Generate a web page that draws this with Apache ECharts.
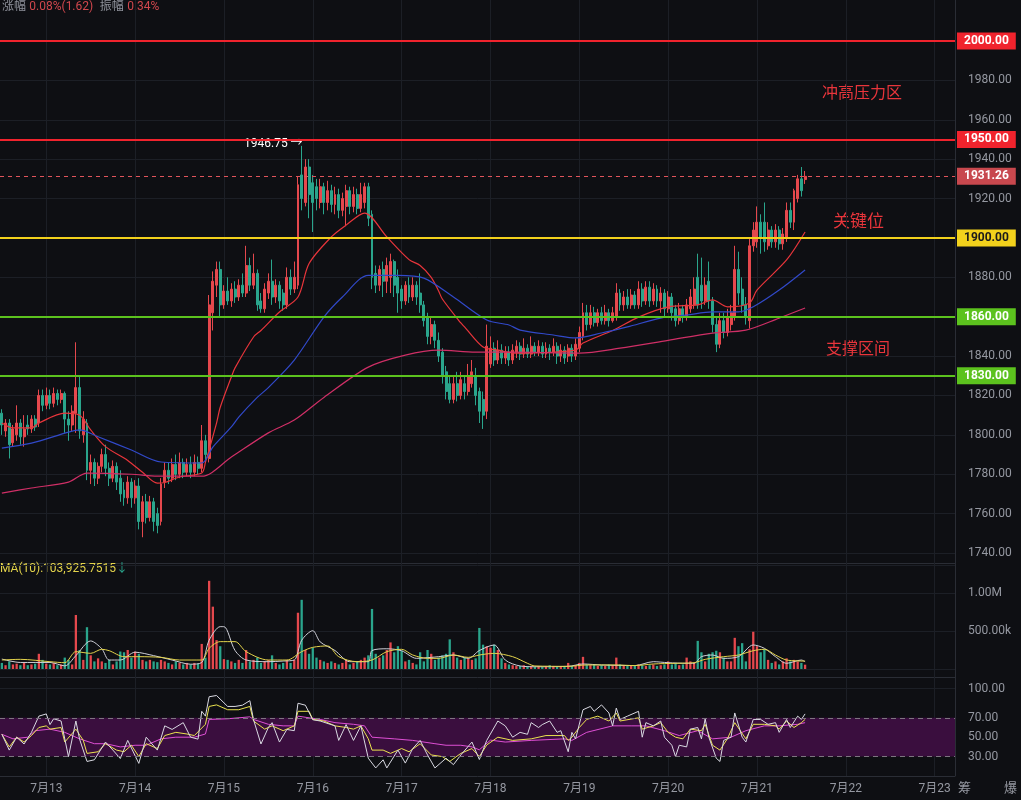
<!DOCTYPE html>
<html>
<head>
<meta charset="utf-8">
<title>K线</title>
<script src="https://cdn.jsdelivr.net/npm/echarts@6/dist/echarts.min.js"></script>
<style>
html, body { margin: 0; padding: 0; background: #0e0f13; }
#chart { width: 1021px; height: 800px; }
</style>
</head>
<body>
<div id="chart"></div>
<script>
// 日期（小时K线，第一根是 7月12 12:00）
const days = ['7月12', '7月13', '7月14', '7月15', '7月16', '7月17', '7月18', '7月19', '7月20', '7月21', '7月22', '7月23']
const firstHour = 12
const totalBars = 258

// K线 [开, 收, 低, 高]
const day12 = [
  [1811, 1805, 1800, 1813], [1802, 1806, 1799, 1808], [1806, 1795, 1788, 1808], [1796, 1803, 1794, 1805],
  [1800, 1806, 1797, 1815], [1806, 1799, 1795, 1808], [1799, 1803, 1794, 1810], [1805, 1803, 1800, 1810],
  [1803, 1808, 1801, 1810], [1808, 1804, 1802, 1810], [1806, 1820, 1804, 1823], [1820, 1815, 1812, 1823]
]
const day13 = [
  [1815, 1820, 1813, 1824], [1820, 1816, 1813, 1823], [1816, 1821, 1814, 1824], [1821, 1818, 1815, 1823],
  [1818, 1821, 1816, 1823], [1821, 1808, 1801, 1822], [1808, 1805, 1797, 1812], [1805, 1812, 1802, 1815],
  [1811, 1824, 1801, 1847], [1824, 1802, 1798, 1830], [1800, 1808, 1796, 1812], [1806, 1782, 1777, 1808],
  [1782, 1786, 1775, 1790], [1786, 1778, 1774, 1788], [1778, 1784, 1775, 1786], [1784, 1790, 1781, 1793],
  [1790, 1783, 1779, 1795], [1783, 1778, 1774, 1786], [1778, 1784, 1776, 1787], [1784, 1776, 1772, 1786],
  [1778, 1770, 1766, 1782], [1772, 1768, 1764, 1776], [1768, 1776, 1765, 1779], [1776, 1768, 1763, 1778]
]
const day14 = [
  [1768, 1774, 1765, 1777], [1774, 1756, 1752, 1778], [1756, 1766, 1748, 1769], [1766, 1758, 1755, 1770],
  [1758, 1766, 1756, 1769], [1766, 1756, 1751, 1768], [1760, 1754, 1750, 1763], [1756, 1775, 1754, 1778],
  [1776, 1782, 1773, 1786], [1782, 1778, 1775, 1786], [1778, 1785, 1776, 1788], [1785, 1780, 1777, 1790],
  [1780, 1786, 1778, 1791], [1786, 1781, 1778, 1788], [1781, 1785, 1779, 1788], [1785, 1781, 1778, 1789],
  [1781, 1786, 1779, 1790], [1786, 1783, 1780, 1789], [1783, 1797, 1781, 1805], [1797, 1790, 1786, 1800],
  [1788, 1866, 1786, 1871], [1862, 1878, 1853, 1883], [1876, 1884, 1870, 1888], [1884, 1866, 1860, 1888]
]
const day15 = [
  [1866, 1873, 1864, 1876], [1873, 1868, 1866, 1880], [1868, 1874, 1865, 1877], [1874, 1870, 1867, 1878],
  [1870, 1876, 1868, 1879], [1876, 1872, 1870, 1882], [1872, 1886, 1870, 1896], [1886, 1876, 1873, 1890],
  [1876, 1882, 1874, 1892], [1882, 1866, 1863, 1884], [1868, 1864, 1862, 1872], [1864, 1874, 1862, 1877],
  [1872, 1878, 1869, 1882], [1878, 1870, 1866, 1889], [1870, 1876, 1867, 1879], [1876, 1868, 1864, 1878],
  [1872, 1866, 1863, 1874], [1866, 1880, 1864, 1885], [1880, 1874, 1871, 1884], [1874, 1880, 1872, 1888],
  [1876, 1927, 1874, 1931], [1932, 1920, 1914, 1946.75], [1918, 1936, 1916, 1940], [1936, 1922, 1910, 1940]
]
const day16 = [
  [1928, 1918, 1903, 1932], [1926, 1920, 1914, 1930], [1918, 1926, 1915, 1930], [1926, 1918, 1912, 1928],
  [1918, 1924, 1914, 1929], [1924, 1917, 1913, 1927], [1917, 1922, 1912, 1926], [1922, 1914, 1910, 1925],
  [1914, 1920, 1911, 1923], [1916, 1924, 1906, 1927], [1924, 1916, 1912, 1926], [1916, 1922, 1913, 1926],
  [1922, 1915, 1912, 1925], [1915, 1922, 1913, 1928], [1918, 1926, 1915, 1928], [1926, 1910, 1906, 1928],
  [1912, 1880, 1874, 1914], [1882, 1876, 1872, 1886], [1876, 1884, 1873, 1886], [1884, 1878, 1870, 1888],
  [1878, 1886, 1872, 1890], [1880, 1888, 1872, 1892], [1888, 1876, 1870, 1889], [1880, 1872, 1862, 1884]
]
const day17 = [
  [1874, 1868, 1864, 1876], [1868, 1876, 1866, 1878], [1876, 1870, 1867, 1880], [1870, 1876, 1868, 1880],
  [1876, 1870, 1866, 1878], [1872, 1866, 1862, 1882], [1866, 1858, 1855, 1868], [1860, 1850, 1846, 1862],
  [1850, 1856, 1846, 1860], [1856, 1848, 1844, 1858], [1848, 1840, 1837, 1852], [1842, 1830, 1826, 1844],
  [1832, 1822, 1818, 1835], [1826, 1818, 1816, 1830], [1818, 1826, 1816, 1830], [1826, 1820, 1817, 1832],
  [1820, 1828, 1818, 1832], [1826, 1822, 1818, 1830], [1822, 1830, 1820, 1836], [1826, 1832, 1824, 1838],
  [1830, 1820, 1815, 1834], [1822, 1812, 1806, 1824], [1818, 1810, 1803, 1822], [1812, 1845, 1808, 1856]
]
const day18 = [
  [1836, 1844, 1834, 1850], [1844, 1838, 1835, 1847], [1838, 1843, 1836, 1848], [1843, 1839, 1836, 1846],
  [1839, 1842, 1836, 1845], [1842, 1838, 1835, 1845], [1838, 1843, 1836, 1846], [1842, 1845, 1839, 1848],
  [1845, 1841, 1838, 1847], [1841, 1844, 1839, 1849], [1844, 1841, 1839, 1846], [1841, 1845, 1839, 1850],
  [1845, 1842, 1840, 1847], [1842, 1845, 1840, 1848], [1845, 1841, 1839, 1847], [1841, 1844, 1839, 1847],
  [1844, 1842, 1838, 1846], [1842, 1845, 1840, 1849], [1845, 1840, 1836, 1847], [1840, 1843, 1837, 1846],
  [1843, 1839, 1836, 1845], [1840, 1844, 1837, 1846], [1844, 1840, 1837, 1846], [1840, 1846, 1838, 1849]
]
const day19 = [
  [1844, 1852, 1842, 1855], [1850, 1862, 1848, 1867], [1862, 1856, 1853, 1866], [1856, 1862, 1854, 1866],
  [1862, 1857, 1855, 1865], [1857, 1862, 1855, 1864], [1862, 1858, 1856, 1865], [1858, 1862, 1856, 1866],
  [1862, 1858, 1855, 1864], [1858, 1862, 1857, 1865], [1860, 1872, 1858, 1877], [1872, 1866, 1863, 1874],
  [1866, 1870, 1863, 1873], [1870, 1866, 1864, 1874], [1866, 1871, 1864, 1874], [1871, 1866, 1864, 1873],
  [1866, 1874, 1864, 1878], [1874, 1868, 1865, 1877], [1868, 1875, 1866, 1878], [1875, 1868, 1865, 1878],
  [1868, 1874, 1866, 1877], [1874, 1868, 1865, 1876], [1868, 1872, 1862, 1875], [1872, 1864, 1860, 1874]
]
const day20 = [
  [1864, 1870, 1862, 1873], [1870, 1862, 1858, 1872], [1864, 1858, 1855, 1866], [1858, 1864, 1856, 1867],
  [1864, 1860, 1857, 1866], [1860, 1866, 1858, 1869], [1864, 1870, 1862, 1874], [1866, 1874, 1864, 1880],
  [1880, 1866, 1864, 1892], [1876, 1868, 1864, 1890], [1868, 1876, 1866, 1880], [1878, 1868, 1864, 1888],
  [1868, 1856, 1852, 1870], [1856, 1846, 1842, 1860], [1846, 1858, 1844, 1862], [1858, 1852, 1849, 1862],
  [1852, 1860, 1850, 1864], [1856, 1862, 1853, 1866], [1860, 1884, 1858, 1896], [1884, 1872, 1866, 1893],
  [1874, 1866, 1862, 1880], [1866, 1860, 1856, 1870], [1858, 1896, 1854, 1900], [1896, 1904, 1893, 1908]
]
const day21 = [
  [1898, 1908, 1895, 1916], [1908, 1900, 1892, 1912], [1908, 1898, 1893, 1918], [1896, 1904, 1894, 1908],
  [1904, 1898, 1895, 1906], [1898, 1904, 1895, 1907], [1904, 1897, 1894, 1906], [1897, 1902, 1894, 1905],
  [1900, 1914, 1898, 1918], [1914, 1908, 1905, 1918], [1908, 1924, 1904, 1925], [1920, 1930, 1918, 1932],
  [1930, 1924, 1921, 1936], [1929.64, 1931.26, 1927.4, 1934]
]

// 成交量（单位 k）
const vol12 = [80, 50, 100, 60, 70, 50, 80, 50, 60, 70, 200, 120]
const vol13 = [70, 60, 80, 50, 60, 150, 120, 60, 710, 250, 120, 550, 180, 100, 140, 100, 80, 120, 60, 100, 230, 220, 250, 150]
const vol14 = [230, 200, 120, 100, 120, 100, 90, 120, 100, 80, 60, 100, 80, 60, 80, 60, 80, 70, 330, 150, 1160, 820, 380, 300]
const vol15 = [130, 120, 100, 80, 120, 80, 250, 100, 120, 150, 80, 100, 120, 180, 80, 60, 80, 120, 80, 120, 740, 910, 250, 200]
const vol16 = [280, 150, 120, 100, 80, 100, 80, 60, 80, 120, 60, 80, 100, 120, 150, 180, 790, 200, 150, 180, 250, 350, 220, 300]
const vol17 = [240, 100, 120, 80, 60, 220, 100, 250, 200, 120, 150, 180, 200, 390, 220, 150, 120, 150, 140, 120, 140, 540, 320, 300]
const vol18 = [280, 320, 250, 140, 80, 60, 50, 40, 40, 50, 40, 40, 30, 40, 30, 40, 50, 40, 30, 40, 40, 80, 40, 50]
const vol19 = [80, 160, 60, 50, 60, 40, 50, 40, 60, 50, 150, 60, 50, 40, 50, 40, 60, 50, 40, 50, 60, 40, 50, 60]
const vol20 = [100, 60, 80, 50, 60, 150, 100, 80, 370, 220, 100, 200, 220, 240, 220, 150, 100, 100, 410, 300, 340, 100, 260, 490]
const vol21 = [300, 220, 260, 120, 80, 100, 60, 100, 140, 100, 120, 100, 80, 56.8]

// 均线 [K线序号, 价格]
const maFast = [[0, 1806], [3, 1803.5], [8, 1803.5], [10, 1806], [17, 1811], [21, 1810], [24, 1802.5], [28, 1794], [34, 1787],
  [38, 1781], [42, 1775.5], [44, 1775.8], [48, 1778.6], [54, 1780.6], [55, 1786], [58, 1806], [59, 1814], [62, 1829.4],
  [63, 1834], [68, 1849.7], [70, 1853], [75, 1862.4], [80, 1870], [83, 1887], [89, 1900.5], [93, 1906.5], [98, 1912.6],
  [104, 1900.5], [110, 1889], [113, 1886], [116, 1880], [118, 1873], [119, 1869], [124, 1856.8], [125, 1854.8], [130, 1844.6],
  [134, 1843], [139, 1841.5], [155, 1843], [157, 1846.6], [165, 1853], [172, 1859.8], [180, 1865], [188, 1866],
  [192, 1868.5], [196, 1865], [202, 1867], [204, 1873.5], [212, 1888.8], [217, 1903]]
const maMid = [[0, 1793.3], [8, 1795.8], [18, 1801.4], [21, 1802.5], [26, 1799], [35, 1792.3], [43, 1786.2], [54, 1785.7],
  [57, 1793.8], [62, 1804], [64, 1809], [69, 1819], [72, 1824], [79, 1838], [87, 1859.8], [92, 1870], [99, 1881],
  [107, 1881], [114, 1879.6], [122, 1870], [131, 1858.3], [137, 1855.8], [140, 1853.2], [149, 1850.7], [155, 1849.2],
  [162, 1851.7], [169, 1854.8], [178, 1859.3], [185, 1860.8], [192, 1862.4], [199, 1862.4], [203, 1865], [210, 1873.5], [217, 1883.7]]
const maSlow = [[0, 1770.4], [8, 1773], [18, 1776], [23, 1780.6], [35, 1780], [42, 1779], [54, 1779], [62, 1788.7],
  [72, 1801], [79, 1807.5], [87, 1819], [99, 1834.4], [109, 1840.5], [118, 1843], [128, 1842], [137, 1842], [156, 1841.5],
  [167, 1844], [180, 1848], [192, 1851.7], [201, 1853.2], [210, 1859.3], [217, 1864.4]]

// 成交量均线 [序号, k]
const volMa5 = [[0, 131], [5, 86], [13, 86], [17, 41], [20, 176], [24, 369], [27, 266], [29, 118], [32, 118], [36, 221],
  [41, 176], [46, 118], [51, 63], [54, 86], [56, 378], [59, 557], [60, 557], [63, 243], [66, 118], [72, 96], [76, 105],
  [79, 118], [81, 378], [84, 504], [86, 356], [90, 243], [94, 96], [99, 96], [100, 243], [104, 266], [108, 240], [112, 140],
  [116, 153], [118, 162], [122, 184], [126, 140], [129, 243], [133, 316], [136, 118], [140, 40], [144, 30], [153, 35],
  [157, 66], [162, 53], [171, 45], [176, 96], [180, 83], [185, 75], [187, 75], [189, 162], [192, 184], [195, 140],
  [199, 162], [203, 316], [206, 272], [209, 162], [212, 75], [216, 118], [217, 96]]
const volMa10 = [[0, 118], [5, 127], [13, 96], [17, 83], [20, 228], [24, 206], [27, 259], [29, 241], [33, 162], [37, 162],
  [43, 153], [48, 118], [54, 118], [56, 272], [59, 360], [63, 360], [66, 228], [72, 118], [77, 118], [81, 228], [84, 285],
  [88, 303], [91, 162], [96, 96], [100, 118], [104, 228], [108, 259], [111, 184], [115, 140], [118, 140], [122, 184],
  [126, 153], [129, 184], [133, 206], [138, 162], [142, 75], [144, 40], [153, 35], [158, 53], [166, 53], [171, 45],
  [176, 66], [182, 75], [187, 83], [190, 127], [195, 162], [199, 184], [203, 241], [206, 259], [209, 184], [212, 118], [217, 104]]

// RSI [序号, 值]
const rsiFast = [[0, 53], [2, 36.7], [4, 50], [6, 43], [8, 55], [10, 71.7], [12, 74], [13, 63], [14, 69], [16, 66.7],
  [18, 30], [20, 66.7], [21, 48], [23, 25], [25, 26.7], [28, 45], [30, 36.7], [32, 28], [34, 46.7], [37, 23], [39, 50],
  [42, 36.7], [44, 61.7], [46, 58], [49, 65], [51, 50], [53, 48], [54, 76.7], [55, 71.7], [56, 91.7], [58, 93], [61, 81.7],
  [63, 81.7], [65, 83], [67, 87.7], [68, 68], [70, 43], [72, 60], [73, 65], [75, 45], [77, 58], [79, 56.7], [80, 85],
  [82, 83], [84, 68], [86, 66.7], [90, 61.7], [91, 46.7], [93, 63], [95, 46.7], [97, 61.7], [99, 28.3], [101, 18.3],
  [103, 26.7], [104, 18.3], [107, 36.7], [109, 23.3], [111, 38.3], [113, 46.7], [115, 31.7], [117, 18.3], [120, 28.3],
  [122, 21.7], [124, 31.7], [127, 45], [129, 27], [131, 46.7], [134, 66.7], [136, 61.7], [138, 50], [140, 55], [142, 53],
  [143, 65], [145, 60], [146, 63], [148, 66.7], [150, 55], [151, 56.7], [153, 35], [154, 55], [155, 48.3], [157, 78.3],
  [159, 81.7], [160, 76.7], [162, 83.3], [164, 75], [165, 61.7], [166, 80], [167, 68.3], [169, 71.7], [172, 76.7],
  [173, 50], [174, 65], [176, 61.7], [178, 66.7], [179, 50], [181, 41.7], [182, 30], [183, 41.7], [185, 40], [186, 58.3],
  [188, 60], [189, 48.3], [190, 69], [191, 50], [193, 28.3], [194, 25], [195, 46.7], [197, 50], [198, 75], [200, 50],
  [201, 45], [203, 68.3], [205, 68.3], [207, 63.3], [209, 65], [210, 55], [212, 68.3], [213, 60], [215, 71.7], [216, 68.3], [217, 74]]
const rsiMid = [[0, 53], [2, 40], [4, 50], [6, 45], [8, 51.7], [10, 60], [12, 61.7], [13, 58.3], [16, 60], [17, 45],
  [20, 58.3], [22, 46.7], [23, 33.3], [26, 35], [28, 43.3], [31, 36.7], [33, 35], [35, 41.7], [37, 30], [39, 43.3],
  [42, 38.3], [44, 51.7], [47, 55], [50, 53.3], [52, 51.7], [55, 63.3], [56, 81.7], [58, 83.3], [61, 78.3], [64, 78.3],
  [67, 81.7], [68, 66.7], [71, 58.3], [73, 61.7], [76, 56.7], [79, 61.7], [80, 76.7], [83, 76.7], [84, 68.3], [87, 66.7],
  [90, 61.7], [93, 60], [95, 58.3], [97, 61.7], [99, 48.3], [100, 36.7], [103, 36.7], [105, 33.3], [108, 38.3], [110, 35],
  [113, 43.3], [116, 31.7], [119, 30], [121, 25], [124, 33.3], [127, 38.3], [129, 30], [131, 42], [134, 50], [138, 46.7],
  [143, 48.3], [147, 51.7], [152, 51.7], [153, 46.7], [154, 50], [156, 60], [158, 68.3], [161, 71.7], [164, 66.7],
  [166, 75], [167, 66.7], [172, 70], [173, 58.3], [176, 61.7], [178, 65], [180, 55], [182, 50], [184, 48.3], [186, 58.3],
  [189, 56.7], [190, 63.3], [192, 41.7], [194, 36.7], [196, 48.3], [198, 65], [201, 48.3], [203, 63.3], [206, 63.3],
  [209, 61.7], [210, 58.3], [212, 66.7], [214, 60], [216, 65], [217, 68.3]]
const rsiSlow = [[0, 53], [3, 48.3], [7, 50], [9, 56.7], [13, 58.3], [17, 55], [21, 48.3], [25, 43.3], [28, 43.3], [32, 40],
  [36, 41.7], [39, 41.7], [43, 48.3], [47, 50], [52, 50], [55, 53.3], [56, 68.3], [61, 69], [67, 71], [68, 68.3], [72, 63.3],
  [76, 61.7], [79, 61.7], [80, 71.7], [83, 70], [86, 68.3], [90, 65], [95, 63.3], [98, 61.7], [100, 50], [106, 48.3],
  [111, 46.7], [117, 43.3], [120, 41.7], [124, 41.7], [127, 40], [129, 37], [132, 47], [136, 45], [143, 46.7], [152, 48.3],
  [154, 46.7], [158, 55], [165, 61.7], [170, 61.7], [174, 61.7], [179, 56.7], [183, 51.7], [188, 56.7], [192, 48.3],
  [197, 50], [201, 56.7], [206, 61.7], [210, 61.7], [215, 63.3], [217, 65]]

// 水平关键位
const levels = [2000, 1950, 1900, 1860, 1830]
const lastPrice = 1931.26

const UP = '#e5484d'
const DOWN = '#2aa58c'
const FONT = 'Roboto, "Noto Sans CJK SC", sans-serif'

const candles = [].concat(day12, day13, day14, day15, day16, day17, day18, day19, day20, day21)
const volumes = [].concat(vol12, vol13, vol14, vol15, vol16, vol17, vol18, vol19, vol20, vol21)
const categories = []
for (let i = 0; i < totalBars; i++) {
  const h = firstHour + i
  categories.push(days[Math.floor(h / 24)] + ' ' + String(h % 24).padStart(2, '0') + ':00')
}
const isDayStart = (i) => (i + firstHour) % 24 === 0

function boxLabel(bg, fg, text) {
  return {
    show: true,
    position: 'end',
    distance: 2,
    formatter: text,
    backgroundColor: bg,
    color: fg,
    fontFamily: FONT,
    fontSize: 12,
    fontWeight: 'bold',
    padding: [3, 7, 2, 7]
  }
}

const levelStyle = {
  2000: { color: '#f0232d', text: '#ffffff' },
  1950: { color: '#f0232d', text: '#ffffff' },
  1900: { color: '#f2d11c', text: '#1b1b1b' },
  1860: { color: '#5cc21e', text: '#ffffff' },
  1830: { color: '#5cc21e', text: '#ffffff' }
}

const gridLine = '#1c1f26'
const hiddenX = (gi) => ({
  type: 'category', gridIndex: gi, data: categories, boundaryGap: true,
  axisLine: { show: false }, axisTick: { show: false }, axisLabel: { show: false }, splitLine: { show: false }
})

const eChart = echarts.init(document.getElementById('chart'))
const option = {
  backgroundColor: '#0e0f13',
  animation: false,
  grid: [
    { left: 0, right: 66, top: 0, height: 776 }, // 背景竖线
    { left: 0, right: 66, top: 41, height: 512 }, // 主图
    { left: 0, right: 66, top: 565, height: 104 }, // 成交量
    { left: 0, right: 66, top: 679, height: 97 } // RSI
  ],
  xAxis: [
    {
      type: 'category', gridIndex: 0, data: categories, boundaryGap: true,
      axisLine: { show: false }, axisTick: { show: false }, axisLabel: { show: false },
      splitLine: { show: true, alignWithLabel: true, interval: isDayStart, lineStyle: { color: gridLine, width: 1 } }
    },
    hiddenX(1),
    hiddenX(2),
    {
      type: 'category', gridIndex: 3, data: categories, boundaryGap: true,
      axisLine: { show: true, lineStyle: { color: '#2a2d35' } },
      axisTick: { show: false },
      splitLine: { show: false },
      axisLabel: {
        show: true, interval: isDayStart, margin: 7, color: '#9598a1', fontSize: 12, fontFamily: FONT,
        formatter: (v) => v.split(' ')[0]
      }
    }
  ],
  yAxis: [
    { type: 'value', gridIndex: 0, show: false, min: 0, max: 1 },
    {
      type: 'value', gridIndex: 1, position: 'right', min: 1740, max: 2000, interval: 20,
      axisLine: { show: false }, axisTick: { show: false },
      splitLine: { lineStyle: { color: gridLine } },
      axisLabel: {
        color: '#9598a1', fontSize: 12, fontFamily: FONT, margin: 13,
        formatter: (v) => (v === 2000 || v === 1900 || v === 1860) ? '' : v.toFixed(2)
      }
    },
    {
      type: 'value', gridIndex: 2, position: 'right', min: 0, max: 1368, interval: 500,
      axisLine: { show: false }, axisTick: { show: false },
      splitLine: { lineStyle: { color: gridLine } },
      axisLabel: {
        color: '#9598a1', fontSize: 12, fontFamily: FONT, margin: 13, showMaxLabel: false,
        formatter: (v) => v === 1000 ? '1.00M' : (v === 500 ? '500.00k' : '')
      }
    },
    {
      type: 'value', gridIndex: 3, position: 'right', min: 10, max: 110, interval: 10,
      axisLine: { show: false }, axisTick: { show: false }, splitLine: { show: false },
      axisLabel: {
        color: '#9598a1', fontSize: 12, fontFamily: FONT, margin: 13,
        formatter: (v) => [100, 70, 50, 30].indexOf(v) >= 0 ? v.toFixed(2) : ''
      }
    }
  ],
  series: [
    {
      name: 'K', type: 'candlestick', xAxisIndex: 1, yAxisIndex: 1,
      data: candles, barWidth: '66%',
      itemStyle: { color: UP, color0: DOWN, borderColor: UP, borderColor0: DOWN, borderWidth: 1 },
      markLine: {
        symbol: 'none', silent: true, animation: false,
        data: levels.map((lv) => ({
          yAxis: lv,
          lineStyle: { color: levelStyle[lv].color, width: 2, type: 'solid' },
          label: boxLabel(levelStyle[lv].color, levelStyle[lv].text, lv.toFixed(2))
        })).concat([{
          yAxis: lastPrice,
          lineStyle: { color: '#e0545b', width: 1, type: [4, 4] },
          label: boxLabel('#c8484e', '#ffffff', lastPrice.toFixed(2))
        }])
      }
    },
    { type: 'line', xAxisIndex: 1, yAxisIndex: 1, data: maFast, showSymbol: false, smooth: 0.3, lineStyle: { color: '#e8353b', width: 1.2 } },
    { type: 'line', xAxisIndex: 1, yAxisIndex: 1, data: maMid, showSymbol: false, smooth: 0.3, lineStyle: { color: '#3149c9', width: 1.2 } },
    { type: 'line', xAxisIndex: 1, yAxisIndex: 1, data: maSlow, showSymbol: false, smooth: 0.3, lineStyle: { color: '#cf2f66', width: 1.2 } },
    {
      name: 'VOL', type: 'bar', xAxisIndex: 2, yAxisIndex: 2, barWidth: '62%',
      data: volumes.map((v, i) => ({ value: v, itemStyle: { color: candles[i][1] >= candles[i][0] ? UP : DOWN } })),
      markLine: {
        symbol: 'none', silent: true, animation: false,
        data: [{ yAxis: volumes[volumes.length - 1], lineStyle: { opacity: 0 }, label: boxLabel('#e8930e', '#fff6e0', '56.8k') }]
      }
    },
    { type: 'line', xAxisIndex: 2, yAxisIndex: 2, data: volMa5, showSymbol: false, smooth: 0.3, lineStyle: { color: '#cfd0d8', width: 1 } },
    { type: 'line', xAxisIndex: 2, yAxisIndex: 2, data: volMa10, showSymbol: false, smooth: 0.3, lineStyle: { color: '#e3d34b', width: 1 } },
    {
      type: 'line', xAxisIndex: 3, yAxisIndex: 3, data: rsiSlow, showSymbol: false, lineStyle: { color: '#de4fd4', width: 1 },
      markArea: { silent: true, itemStyle: { color: '#3a0e3e' }, data: [[{ yAxis: 30 }, { yAxis: 70 }]] },
      markLine: {
        symbol: 'none', silent: true, animation: false, label: { show: false },
        data: [
          { yAxis: 70, lineStyle: { color: '#7d7580', type: [5, 4], width: 1 } },
          { yAxis: 30, lineStyle: { color: '#7d7580', type: [5, 4], width: 1 } },
          { yAxis: 100, lineStyle: { color: gridLine, type: 'solid', width: 1 } }
        ]
      }
    },
    { type: 'line', xAxisIndex: 3, yAxisIndex: 3, data: rsiMid, showSymbol: false, lineStyle: { color: '#ebe34e', width: 1 } },
    { type: 'line', xAxisIndex: 3, yAxisIndex: 3, data: rsiFast, showSymbol: false, lineStyle: { color: '#d9d9e2', width: 1 } }
  ],
  graphic: [
    { type: 'line', shape: { x1: 955.5, y1: 0, x2: 955.5, y2: 776 }, style: { stroke: '#2a2d35', lineWidth: 1 }, z: 10 },
    { type: 'line', shape: { x1: 0, y1: 563.5, x2: 955, y2: 563.5 }, style: { stroke: '#2a2d35', lineWidth: 1 } },
    { type: 'line', shape: { x1: 0, y1: 677.5, x2: 955, y2: 677.5 }, style: { stroke: '#2a2d35', lineWidth: 1 } },
    {
      type: 'text', left: 2, top: 1,
      style: {
        text: '{g|涨幅} {r|0.08%(1.62)}  {g|振幅} {r|0.34%}',
        rich: {
          g: { fill: '#8f929b', fontSize: 12, fontFamily: FONT },
          r: { fill: '#d0474d', fontSize: 12, fontFamily: FONT }
        }
      }
    },
    {
      type: 'text', left: 0, top: 563,
      style: {
        text: '{y|MA(10):103,925.7515}{d|↓}',
        rich: {
          y: { fill: '#e3d34b', fontSize: 12, fontFamily: FONT },
          d: { fill: DOWN, fontSize: 12, fontFamily: FONT }
        }
      }
    },
    { type: 'text', left: 244, top: 138, style: { text: '1946.75 →', fill: '#ffffff', fontSize: 12, fontFamily: FONT } },
    { type: 'text', left: 822, top: 84, style: { text: '冲高压力区', fill: '#e8353b', fontSize: 16, fontFamily: '"Noto Sans CJK SC"' } },
    { type: 'text', left: 833, top: 212, style: { text: '关键位', fill: '#e8353b', fontSize: 17, fontFamily: '"Noto Sans CJK SC"' } },
    { type: 'text', left: 826, top: 340, style: { text: '支撑区间', fill: '#e8353b', fontSize: 16, fontFamily: '"Noto Sans CJK SC"' } },
    { type: 'text', left: 958, top: 781, style: { text: '筹', fill: '#9598a1', fontSize: 13, fontFamily: '"Noto Sans CJK SC"' } },
    { type: 'text', left: 1004, top: 781, style: { text: '爆', fill: '#9598a1', fontSize: 13, fontFamily: '"Noto Sans CJK SC"' } }
  ]
}
eChart.setOption(option)
</script>
</body>
</html>
